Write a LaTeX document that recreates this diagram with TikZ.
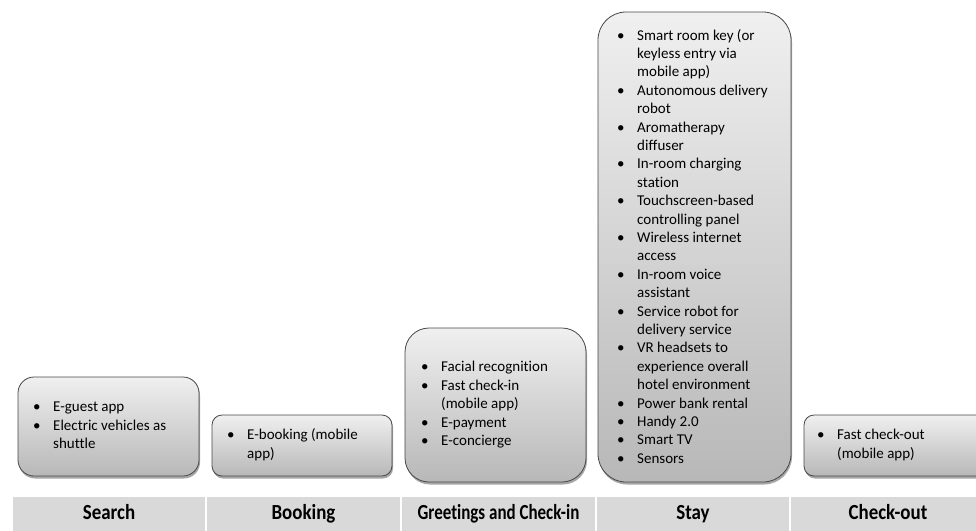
\documentclass[tikz,border=0pt]{standalone}
\usepackage{graphicx}
\usepackage{fontspec}
\setmainfont[Ligatures=CommonOff]{Carlito}
\usetikzlibrary{shadows}
\tikzset{
  card/.style={draw=black!72, line width=0.8pt, top color=black!6, bottom color=black!28,
    drop shadow={shadow xshift=1pt, shadow yshift=-2.5pt, opacity=0.35, fill=black}},
  items/.style={anchor=west, inner sep=0pt, align=left, font=\fontsize{15}{18.4}\selectfont},
  cell/.style={fill=black!15, draw=none, inner sep=0pt, minimum height=34pt,
    text height=15pt, text depth=3pt, font=\bfseries\fontsize{21.5}{24}\selectfont}
}
\newcommand{\blt}{•}
\newcommand{\squeeze}[2]{\scalebox{#1}[1]{#2}}
\begin{document}
\begin{tikzpicture}[x=1pt,y=-1pt]
\useasboundingbox (0,0) rectangle (976,530);
\clip (0,0) rectangle (976,530);
% boxes
\path[card, rounded corners=16pt] (18,377) rectangle (199,476);
\node[items] (t1) at (33,426.5) {\begin{tabular}{@{}p{20pt}@{}l@{}}
\blt & E-guest app\\
\blt & Electric vehicles as\\
 & shuttle
\end{tabular}};
\path[card, rounded corners=10pt] (212,415) rectangle (392,476);
\node[items] (t2) at (227,445.5) {\begin{tabular}{@{}p{20pt}@{}l@{}}
\blt & E-booking (mobile\\
 & app)
\end{tabular}};
\path[card, rounded corners=24pt] (405,328) rectangle (586,482);
\node[items] (t3) at (421,405) {\begin{tabular}{@{}p{20pt}@{}l@{}}
\blt & Facial recognition\\
\blt & Fast check-in\\
 & (mobile app)\\
\blt & E-payment\\
\blt & E-concierge
\end{tabular}};
\path[card, rounded corners=28pt] (598,12) rectangle (791,482);
\node[items] (t4) at (617,248) {\begin{tabular}{@{}p{20pt}@{}l@{}}
\blt & Smart room key (or\\
 & keyless entry via\\
 & mobile app)\\
\blt & Autonomous delivery\\
 & robot\\
\blt & Aromatherapy\\
 & diffuser\\
\blt & In-room charging\\
 & station\\
\blt & Touchscreen-based\\
 & controlling panel\\
\blt & Wireless internet\\
 & access\\
\blt & In-room voice\\
 & assistant\\
\blt & Service robot for\\
 & delivery service\\
\blt & VR headsets to\\
 & experience overall\\
 & hotel environment\\
\blt & Power bank rental\\
\blt & Handy 2.0\\
\blt & Smart TV\\
\blt & Sensors
\end{tabular}};
\path[card, rounded corners=10pt] (804,415) rectangle (986,476);
\node[items] (t5) at (817,445.5) {\begin{tabular}{@{}p{20pt}@{}l@{}}
\blt & Fast check-out\\
 & (mobile app)
\end{tabular}};
% stage bar
\node[cell, minimum width=192pt] (c1) at (109,513.5) {\squeeze{0.88}{Search}};
\node[cell, minimum width=193pt] (c2) at (303.5,513.5) {\squeeze{0.88}{Booking}};
\node[cell, minimum width=193pt] (c3) at (498.5,513.5) {\squeeze{0.79}{Greetings and Check-in}};
\node[cell, minimum width=192pt] (c4) at (693,513.5) {\squeeze{0.88}{Stay}};
\node[cell, minimum width=194pt] (c5) at (888,513.5) {\squeeze{0.88}{Check-out}};
\end{tikzpicture}
\end{document}
